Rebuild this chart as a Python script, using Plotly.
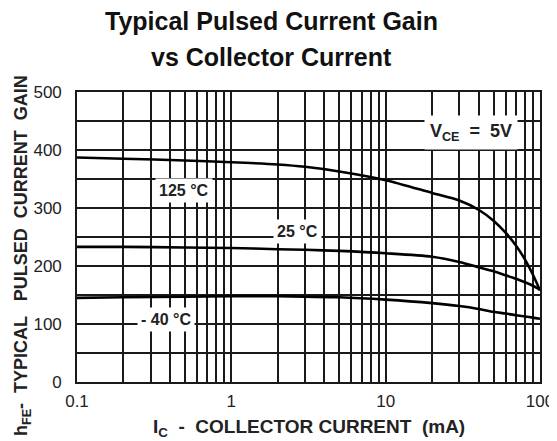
import math
import plotly.graph_objects as go

# ---- data ----
ic_ma = [0.1, 0.2, 0.5, 1, 2, 3, 5, 10, 20, 30, 40, 50, 60, 70, 80, 90, 100]
hfe_125 = [387, 385, 382, 379, 375, 371, 363, 348, 326, 313, 297, 278, 257, 235, 211, 185, 158]
hfe_25 = [233, 233, 232, 231, 229, 228, 226, 222, 216, 207, 198, 191, 184, 178, 172, 166, 159]
hfe_m40 = [145, 146, 147, 148, 148, 147, 146, 142, 136, 131, 126, 121, 118, 115, 113, 111, 109]

x_major_ticks = [0.1, 1, 10, 100]
x_tick_labels = ["0.1", "1", "10", "100"]
x_minor_grid = [m * 10 ** e for e in (-1, 0, 1) for m in range(2, 10)]
y_major_ticks = [0, 100, 200, 300, 400, 500]
y_minor_grid = [50, 150, 250, 350, 450]

labels = [
    ("125 °C", 0.493, 331),
    ("25 °C", 2.665, 260),
    ("- 40 °C", 0.377, 108),
]
vce_label = ("V<sub>CE</sub>  =  5V", 35.7, 431)

FONT = "Liberation Sans, Arial, sans-serif"

# page body has an 8px margin, so the figure is drawn 8px smaller and offset
W, H = 549, 433
L, R, T, B = 69, 17, 84, 59
PW, PH = W - L - R, H - T - B  # 463 x 290


def px(xw):
    return (xw - 77) / PW


def py(yw):
    return (382 - yw) / PH


fig = go.Figure()
for y in (hfe_125, hfe_25, hfe_m40):
    fig.add_trace(go.Scatter(x=ic_ma, y=y, mode="lines",
                             line=dict(color="black", width=2.6, shape="spline", smoothing=0.8),
                             showlegend=False, hoverinfo="skip"))

GRID = "#1a1a1a"
axis_common = dict(showgrid=True, gridcolor=GRID, gridwidth=1.5,
                   showline=True, linecolor=GRID, linewidth=1.6, mirror=True,
                   ticks="outside", tickcolor="rgba(0,0,0,0)",
                   tickfont=dict(size=17, color="#222"),
                   zeroline=False, automargin=False)

fig.update_layout(
    width=W, height=H,
    margin=dict(l=L, r=R, t=T, b=B),
    paper_bgcolor="white", plot_bgcolor="white",
    font=dict(family=FONT, color="#222"),
    xaxis=dict(type="log", range=[-1, 2], tickvals=x_major_ticks, ticktext=x_tick_labels,
               ticklen=3,
               minor=dict(tickvals=x_minor_grid, showgrid=True, gridcolor=GRID,
                          gridwidth=1.5, ticks=""),
               **axis_common),
    yaxis=dict(range=[0, 500], tickvals=y_major_ticks,
               ticktext=[str(v) for v in y_major_ticks],
               ticklen=10,
               minor=dict(tickvals=y_minor_grid, showgrid=True, gridcolor=GRID,
                          gridwidth=1.5, ticks=""),
               **axis_common),
)

# title lines
for txt, yw in (("Typical Pulsed Current Gain", 21), ("vs Collector Current", 57)):
    fig.add_annotation(text="<b>" + txt + "</b>", xref="paper", yref="paper",
                       x=px(271), y=py(yw), xanchor="center", yanchor="middle",
                       showarrow=False, font=dict(size=25, color="#111", family=FONT))

# axis titles
fig.add_annotation(text="<b>I<sub>C</sub>  -  COLLECTOR CURRENT  (mA)</b>", xref="paper", yref="paper",
                   x=px(309), y=py(428), xanchor="center", yanchor="middle",
                   showarrow=False, font=dict(size=19, color="#222", family=FONT))
fig.add_annotation(text="<b>h<sub>FE</sub>-  TYPICAL   PULSED  CURRENT  GAIN</b>", xref="paper", yref="paper",
                   x=px(22), y=py(256), xanchor="center", yanchor="middle",
                   textangle=-90, showarrow=False, font=dict(size=18, color="#222", family=FONT))

for txt, x, y in labels:
    fig.add_annotation(x=math.log10(x), y=y, xref="x", yref="y", text="<b>" + txt + "</b>",
                       showarrow=False, bgcolor="white", borderpad=3,
                       font=dict(size=16, color="#222", family=FONT))

fig.add_annotation(x=math.log10(vce_label[1]), y=vce_label[2], xref="x", yref="y",
                   text="<b>" + vce_label[0] + "</b>", showarrow=False,
                   bgcolor="white", borderpad=5,
                   font=dict(size=18, color="#222", family=FONT))

fig.write_html("out.html")
